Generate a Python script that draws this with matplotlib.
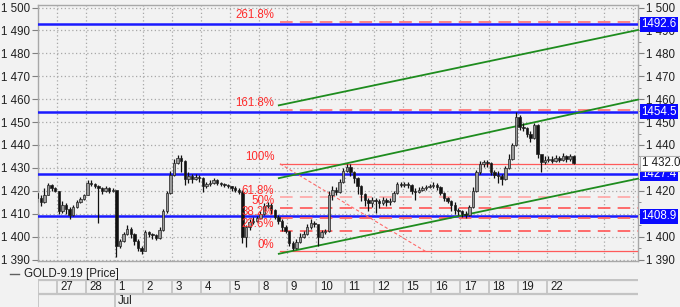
import matplotlib
matplotlib.use("Agg")
import matplotlib.pyplot as plt
import matplotlib.transforms as mtransforms
from matplotlib.ticker import FuncFormatter, MultipleLocator

plt.rcParams["font.family"] = ["Liberation Sans", "DejaVu Sans"]

# trading days shown in the date strip (26 Jun is the partly hidden first day)
day_labels = ["27", "28", "1", "2", "3", "4", "5", "8", "9", "10", "11", "12",
              "15", "16", "17", "18", "19", "22"]
month_label = "Jul"
month_start = 2  # index of 1 Jul

# 3-hour bars, 8 per day, from 26 Jun to 22 Jul
first_open = 1420.5
closes = [
    [1420, 1419, 1417, 1415, 1418, 1422.5, 1421, 1420],
    [1411, 1414, 1412, 1409.5, 1413, 1415, 1416.5, 1418],
    [1423.5, 1423, 1422, 1421, 1420, 1421, 1420, 1420.5],
    [1396, 1398, 1401, 1403.5, 1401, 1398, 1395, 1393.5],
    [1402, 1401, 1400.5, 1399.5, 1403, 1411, 1419, 1427],
    [1432, 1434.5, 1433, 1425, 1426.5, 1425, 1426, 1425.5],
    [1422, 1423, 1423.5, 1424.5, 1423.5, 1423, 1422.5, 1422],
    [1421, 1420.5, 1419.5, 1400, 1404, 1406.5, 1407, 1408],
    [1410, 1413.5, 1414, 1411.5, 1408.5, 1407, 1404, 1402.5],
    [1397, 1395, 1397.5, 1400, 1401, 1404, 1406, 1405.5],
    [1400, 1402, 1402.5, 1418, 1420.5, 1419.5, 1424, 1428.5],
    [1430.5, 1428, 1425.5, 1422, 1418.5, 1416, 1414.5, 1416],
    [1415.5, 1414.5, 1416, 1415, 1415.5, 1419, 1423, 1422.5],
    [1423, 1422.5, 1420, 1419.5, 1420.5, 1421, 1421.5, 1422],
    [1422.5, 1421.5, 1419, 1417, 1415.5, 1414, 1411.5, 1411],
    [1410, 1409.5, 1413, 1420, 1428, 1431.5, 1432.5, 1432],
    [1428, 1427, 1426.5, 1425, 1430, 1434, 1440, 1452],
    [1448, 1447.5, 1445, 1443, 1448.5, 1436, 1432.5, 1433.5],
    [1434, 1433, 1434.5, 1433.5, 1435, 1434, 1435, 1432],
]
highs = [
    [1421, 1420.5, 1419, 1418, 1421, 1423.5, 1423, 1421.5],
    [1420, 1415.5, 1414.5, 1413, 1414, 1416, 1417.5, 1418.5],
    [1424.5, 1424.5, 1423.5, 1422.5, 1421.5, 1422, 1421.5, 1421],
    [1420, 1399, 1402, 1405, 1404, 1401.5, 1399, 1396],
    [1403, 1402.5, 1401.5, 1401, 1404, 1412, 1420, 1428.5],
    [1434, 1435.5, 1435.8, 1433.5, 1428, 1427.5, 1427.5, 1427],
    [1426, 1424, 1424.5, 1425.5, 1425, 1424, 1423.5, 1423],
    [1422, 1422, 1421, 1420.5, 1405, 1407.5, 1408.5, 1409],
    [1411, 1414.5, 1415, 1414.5, 1412, 1409.5, 1407.5, 1405],
    [1402.5, 1398, 1399, 1401.5, 1402.5, 1405.5, 1407.5, 1407],
    [1404, 1403, 1403.5, 1420, 1422, 1421.5, 1425, 1430],
    [1431.8, 1431.5, 1428.5, 1426, 1422.5, 1419, 1417, 1417.5],
    [1417, 1416.5, 1417.5, 1417, 1417, 1420, 1424, 1424],
    [1424, 1424, 1423, 1421, 1421.5, 1422, 1422.5, 1423],
    [1424, 1423.5, 1422, 1419.5, 1417.5, 1416, 1415, 1412.5],
    [1411.5, 1411, 1414, 1421.5, 1429, 1433, 1433.5, 1433.5],
    [1432.5, 1429, 1428.5, 1427.5, 1431, 1436, 1441, 1454.4],
    [1453, 1449.5, 1448, 1446, 1449.5, 1449, 1435.5, 1435],
    [1435, 1435, 1435.5, 1435, 1436.5, 1435.5, 1436, 1435.5],
]
lows = [
    [1418, 1417, 1415, 1413.5, 1414.5, 1418, 1420, 1419.5],
    [1410, 1410.5, 1410, 1407.5, 1409, 1412.5, 1414.5, 1416],
    [1418, 1422, 1421, 1406, 1418.5, 1419.5, 1419, 1419.5],
    [1391, 1395, 1397.5, 1400.5, 1399.5, 1396.5, 1393.5, 1392.5],
    [1395, 1400, 1399, 1398.5, 1399, 1402.5, 1410.5, 1418.5],
    [1426.5, 1431.5, 1428, 1422.5, 1423.5, 1423.5, 1424.5, 1424],
    [1419.5, 1421, 1422, 1423, 1422.5, 1422, 1421.5, 1421],
    [1420, 1419.5, 1418.5, 1397, 1395.5, 1403, 1405.5, 1406.5],
    [1407.5, 1409.5, 1412.5, 1410, 1407.5, 1405.5, 1402.5, 1401.5],
    [1396, 1394, 1394.5, 1397, 1399.5, 1400.5, 1403.5, 1404],
    [1396, 1399.5, 1401, 1402, 1416, 1418, 1419, 1423.5],
    [1428, 1426.5, 1423.5, 1418.5, 1415.5, 1413.5, 1411, 1413],
    [1410.5, 1412.5, 1414, 1413.5, 1414, 1415, 1418.5, 1421.5],
    [1421.5, 1421, 1418.5, 1416, 1419, 1420, 1420.5, 1421],
    [1421, 1420.5, 1418, 1415.5, 1414.5, 1411, 1410, 1409.5],
    [1408.5, 1408.3, 1409, 1412.5, 1419.5, 1427.5, 1430.5, 1430.5],
    [1427, 1425.5, 1423.5, 1422.5, 1424.5, 1429.5, 1433.5, 1439.5],
    [1446.5, 1446, 1443.5, 1441.5, 1442.5, 1434.5, 1428.2, 1431.5],
    [1432.5, 1432, 1432.5, 1432.5, 1433, 1432.5, 1433, 1431.5],
]

# horizontal support / resistance levels
blue_levels = [1492.6, 1454.5, 1427.4, 1408.9]
last_price = 1432.0

# Fibonacci retracement (high 100%, low 0%)
fib_start = 7.74
fib_diag_end = 12.8
fib_high = 1431.8
fib_low = 1393.5
fib_names = ["261.8%", "161.8%", "100%", "61.8%", "50%", "38.2%", "23.6%", "0%"]
fib_ratios = [2.618, 1.618, 1.0, 0.618, 0.5, 0.382, 0.236, 0.0]

# trend channel (x in trading days from 27 Jun, y in price)
chan_x = [7.7, 20.17]
chan_lower = [1392.5, 1425.3]
chan_middle = [1425.5, 1459.8]
chan_upper = [1457.3, 1490.2]

W, H = 680, 307
BG = "#f2f2f2"
fig = plt.figure(figsize=(W / 100, H / 100), dpi=100, facecolor=BG)


def fx(px):
    return px / W


def fy(py):
    return 1 - py / H


ax = fig.add_axes([fx(38), fy(261), fx(638) - fx(38), fy(5) - fy(261)])
ax.set_facecolor(BG)
xmin, xmax = -0.66, 20.17
ax.set_xlim(xmin, xmax)
ax.set_ylim(1389.35, 1501.1)

# grid
ax.set_xticks(range(0, 21))
ax.tick_params(axis="x", length=0, labelbottom=False)
ax.grid(True, color="#a8a8a8", linestyle=(0, (1, 2)), linewidth=0.9)
ax.set_axisbelow(True)
for s in ax.spines.values():
    s.set_color("#a8a8a8")
    s.set_linewidth(1)

ax.yaxis.set_major_locator(MultipleLocator(10))
ax.yaxis.set_minor_locator(MultipleLocator(5))
ax.yaxis.set_major_formatter(FuncFormatter(lambda v, p: f"{int(round(v)):,}".replace(",", " ")))
ax.tick_params(axis="y", which="major", left=True, right=True, labelleft=True, labelright=True,
               length=4, color="#808080", labelsize=8.3, labelcolor="#202020", pad=1.5)
ax.tick_params(axis="y", which="minor", left=False, right=True, length=2, color="#808080")

# candles
n_per_day = 8
xs, o, c, hi, lo = [], [], [], [], []
prev = first_open
for di, (dc, dh, dl) in enumerate(zip(closes, highs, lows)):
    for k in range(n_per_day):
        xs.append(di - 1 + (k + 0.5) / n_per_day)
        o.append(prev)
        c.append(dc[k])
        hi.append(dh[k])
        lo.append(dl[k])
        prev = dc[k]

ax.vlines(xs, lo, hi, color="#111111", linewidth=0.9, zorder=4)
for xi, oi, ci in zip(xs, o, c):
    up = ci >= oi
    ax.bar(xi, max(abs(ci - oi), 0.35), bottom=min(oi, ci), width=0.085,
           color="#9a9a9a" if up else "#111111", edgecolor="#222222", linewidth=0.5, zorder=5)

# blue levels
for lv in blue_levels:
    ax.axhline(lv, color="#1a1aff", linewidth=1.8, zorder=3)

# fibonacci
rng = fib_high - fib_low
for name, r in zip(fib_names, fib_ratios):
    lv = fib_low + r * rng
    if r in (0.0, 1.0):
        ax.plot([fib_start, xmax], [lv, lv], color="#ff5a5a", linewidth=0.9, zorder=3)
    else:
        col = "#ffaaaa" if r == 0.618 else ("#ff7a7a" if r > 1 else "#ff6060")
        ax.plot([fib_start, xmax], [lv, lv], color=col, linewidth=1.3,
                dashes=(7, 4), zorder=3)
    ax.text(fib_start - 0.2, lv + 0.2, name, color="#ff2b2b", fontsize=8.3,
            ha="right", va="bottom", zorder=6)
ax.plot([fib_start, fib_diag_end], [fib_high, fib_low], color="#ff6a6a",
        linewidth=0.8, dashes=(3, 2), zorder=3)

# channel
for ys in (chan_lower, chan_middle, chan_upper):
    ax.plot(chan_x, ys, color="#1e8c1e", linewidth=1.3, zorder=3, clip_on=False)

# right side value boxes
trans = mtransforms.blended_transform_factory(ax.transAxes, ax.transData)
for lv in blue_levels:
    ax.text(1.006, lv, f"{lv:.1f}", transform=trans, color="white", fontsize=8.3,
            ha="left", va="center", zorder=10, clip_on=False,
            bbox=dict(boxstyle="square,pad=0.12", facecolor="#0a0aff", edgecolor="none"))
ax.text(1.006, last_price, f"{last_price:,.1f}".replace(",", " "), transform=trans,
        color="#202020", fontsize=8.3, ha="left", va="center", zorder=10, clip_on=False,
        bbox=dict(boxstyle="square,pad=0.12", facecolor="white", edgecolor="#b0b0b0", linewidth=0.8))

# legend line
fig.add_artist(plt.Line2D([fx(10), fx(19)], [fy(274), fy(274)], color="#606060", linewidth=1))
fig.text(fx(24), fy(274), "GOLD-9.19 [Price]", fontsize=8.3, color="#202020", va="center")

# date strip
tab = fig.add_axes([fx(38), 0, fx(638) - fx(38), fy(279)])
tab.set_xlim(xmin, xmax)
tab.set_ylim(0, 28)
tab.axis("off")
line_col = "#c4c4c4"
tab.hlines([27.2, 13.5], xmin, xmax, color=line_col, linewidth=1.6)
tab.vlines([xmin] + list(range(len(day_labels))), 13.5, 27.2, color=line_col, linewidth=1.3)
tab.vlines([xmin, month_start], 0, 13.5, color=line_col, linewidth=1.3)
for i, lab in enumerate(day_labels):
    tab.text(i + 0.12, 20.3, lab, fontsize=8.3, color="#202020", va="center", ha="left")
tab.text(month_start + 0.12, 6.5, month_label, fontsize=8.3, color="#202020", va="center", ha="left")

fig.savefig("out.png", dpi=100, facecolor=BG)
